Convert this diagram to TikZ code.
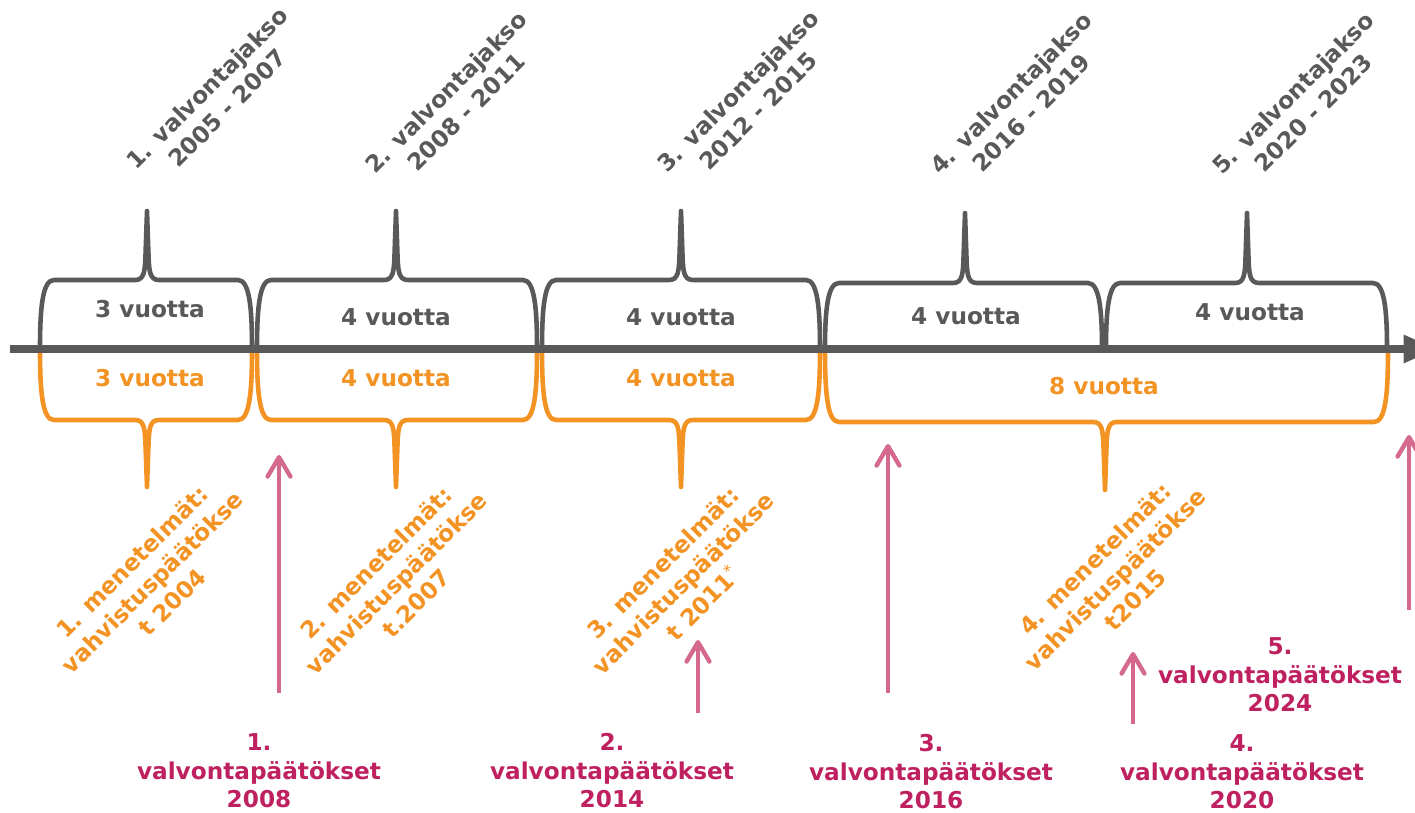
\documentclass[tikz,border=0pt]{standalone}
\usepackage{fontspec}
\setmainfont{DejaVu Sans}
\usetikzlibrary{arrows.meta}
\definecolor{axisgray}{HTML}{595959}
\definecolor{brorange}{HTML}{F39324}
\definecolor{arrpink}{HTML}{D4688E}
\definecolor{txtmag}{HTML}{BF2160}
\tikzset{
  graybrace/.style={draw=axisgray, line width=2.6pt, line join=round, line cap=round},
  orangebrace/.style={draw=brorange, line width=2.6pt, line join=round, line cap=round},
  lbl/.style={font=\bfseries\fontsize{13.2}{16.2}\selectfont, align=center, inner sep=0pt},
  toplbl/.style={lbl, text=axisgray, rotate=45},
  durg/.style={lbl, text=axisgray},
  duro/.style={lbl, text=brorange},
  methlbl/.style={lbl, text=brorange, rotate=45},
  declbl/.style={lbl, text=txtmag},
  pinkarrow/.style={draw=arrpink, line width=2.5pt, -{Straight Barb[length=11pt,width=13pt,line cap=round,line join=round]}},
  axisline/.style={draw=axisgray, line width=4.4pt, -{Triangle[length=19pt,width=15pt]}}
}
\newcommand{\UpBrace}[5]{%
  \draw[graybrace] (#1,348) .. controls (#1,#4+25) and (#1+3,#4) .. (#1+14,#4)
    -- (#3-12,#4) .. controls (#3-3,#4) and (#3-2,#4-8) .. (#3-1.5,#4-25)
    -- (#3,#5) -- (#3+1.5,#4-25) .. controls (#3+2,#4-8) and (#3+3,#4) .. (#3+12,#4)
    -- (#2-14,#4) .. controls (#2-3,#4) and (#2,#4+25) .. (#2,348);}
\newcommand{\DownBrace}[5]{%
  \draw[orangebrace] (#1,351) .. controls (#1,#4-25) and (#1+3,#4) .. (#1+14,#4)
    -- (#3-12,#4) .. controls (#3-3,#4) and (#3-2,#4+8) .. (#3-1.5,#4+25)
    -- (#3,#5) -- (#3+1.5,#4+25) .. controls (#3+2,#4+8) and (#3+3,#4) .. (#3+12,#4)
    -- (#2-14,#4) .. controls (#2-3,#4) and (#2,#4-25) .. (#2,351);}
\begin{document}
\begin{tikzpicture}[x=0.02cm,y=-0.02cm]
\useasboundingbox[fill=white] (0,0) rectangle (1415,813);

% braces above the axis
\UpBrace{40}{252}{147}{280}{211}
\UpBrace{257}{537}{396}{280}{211}
\UpBrace{542}{820}{681}{280}{211}
\UpBrace{825}{1102}{965}{283}{213}
\UpBrace{1106}{1387}{1247}{283}{213}

% braces below the axis
\DownBrace{40}{252}{147}{420}{487}
\DownBrace{257}{537}{396}{420}{487}
\DownBrace{542}{820}{681}{420}{487}
\DownBrace{825}{1388}{1105}{422}{490}

% axis
\coordinate (axs) at (10,349);
\coordinate (axe) at (1437,349);
\draw[axisline] (axs) -- (axe);

% period labels
\node[toplbl] (t1) at (217,98) {1. valvontajakso\\2005 - 2007};
\node[toplbl] (t2) at (456,102) {2. valvontajakso\\2008 - 2011};
\node[toplbl] (t3) at (748,101) {3. valvontajakso\\2012 - 2015};
\node[toplbl] (t4) at (1021,103) {4. valvontajakso\\2016 - 2019};
\node[toplbl] (t5) at (1303,103) {5. valvontajakso\\2020 - 2023};

% durations
\node[durg] (g1) at (150,309) {3 vuotta};
\node[durg] (g2) at (396,317) {4 vuotta};
\node[durg] (g3) at (681,317) {4 vuotta};
\node[durg] (g4) at (966,316) {4 vuotta};
\node[durg] (g5) at (1250,312) {4 vuotta};
\node[duro] (o1) at (150,378) {3 vuotta};
\node[duro] (o2) at (396,378) {4 vuotta};
\node[duro] (o3) at (681,378) {4 vuotta};
\node[duro] (o4) at (1104,386) {8 vuotta};

% method labels
\node[methlbl] (m1) at (152,582) {1. menetelmät:\\vahvistuspäätökse\\t 2004};
\node[methlbl] (m2) at (396,583) {2. menetelmät:\\vahvistuspäätökse\\t.2007};
\node[methlbl] (m3) at (683,583) {3. menetelmät:\\vahvistuspäätökse\\t 2011\textsuperscript{\mdseries *}};
\node[methlbl] (m4) at (1115,579) {4. menetelmät:\\vahvistuspäätökse\\t2015};

% decision arrows
\coordinate (a1s) at (279,693); \coordinate (a1e) at (279,455);
\coordinate (a2s) at (698,713); \coordinate (a2e) at (698,640);
\coordinate (a3s) at (888,693); \coordinate (a3e) at (888,444);
\coordinate (a4s) at (1133,724); \coordinate (a4e) at (1133,652);
\coordinate (a5s) at (1409,610); \coordinate (a5e) at (1409,435);
\draw[pinkarrow] (a1s) -- (a1e);
\draw[pinkarrow] (a2s) -- (a2e);
\draw[pinkarrow] (a3s) -- (a3e);
\draw[pinkarrow] (a4s) -- (a4e);
\draw[pinkarrow] (a5s) -- (a5e);

% decision labels
\node[declbl] (d1) at (259,771) {1.\\valvontapäätökset\\2008};
\node[declbl] (d2) at (612,771) {2.\\valvontapäätökset\\2014};
\node[declbl] (d3) at (931,772) {3.\\valvontapäätökset\\2016};
\node[declbl] (d4) at (1242,772) {4.\\valvontapäätökset\\2020};
\node[declbl] (d5) at (1280,675) {5.\\valvontapäätökset\\2024};
\end{tikzpicture}
\end{document}
